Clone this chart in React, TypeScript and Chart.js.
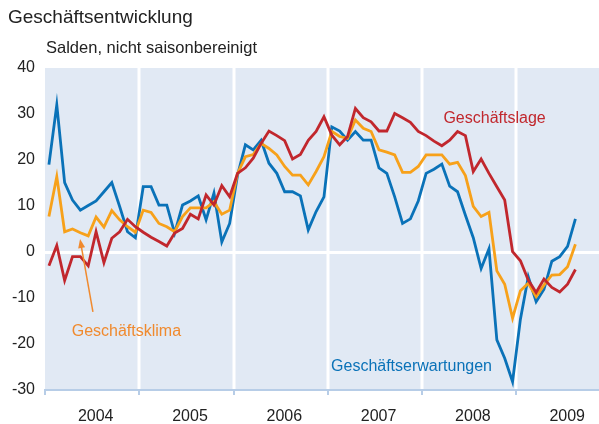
import React, { useEffect, useRef } from "react";
import { Chart, registerables } from "chart.js";

Chart.register(...registerables);

const years = ["2004", "2005", "2006", "2007", "2008", "2009"];

// monthly values, Jan 2004 .. Aug 2009
const geschaeftserwartungen = [
  19, 32, 15.1, 11.3, 9.1, 10.1, 11.1, 13.1, 15.1, 9.9, 4.4, 3.1,
  14.2, 14.2, 10.2, 10.2, 4.1, 10.2, 11.1, 12.2, 7, 12.8, 2.2, 6.2,
  16.7, 23.3, 22.2, 24.3, 19.3, 17.1, 13.1, 13.1, 12.2, 4.8, 8.8, 12.0,
  27.2, 26.3, 24.3, 26.2, 24.3, 24.3, 18.3, 17.1, 12.0, 6.2, 7.2, 11.1,
  17.1, 18.0, 19.1, 14.3, 13.1, 8.0, 3.1, -3.6, 0.7, -19.1, -23.1, -28.2,
  -14.6, -5.4, -10.8, -8.1, -2.0, -1.0, 1.2, 7.2,
];
const geschaeftsklima = [
  7.7, 16.4, 4.4, 5.0, 4.2, 3.5, 7.6, 5.4, 9.0, 7.0, 5.5, 4.3,
  9.1, 8.6, 6.2, 5.5, 4.4, 7.7, 9.6, 9.6, 9.6, 10.9, 8.2, 9.1,
  17.1, 20.7, 21.2, 23.6, 22.5, 21.1, 18.6, 16.7, 16.7, 14.6, 17.5, 20.7,
  26.2, 25.1, 24.7, 28.7, 26.9, 26.2, 22.2, 21.7, 21.1, 17.3, 17.3, 18.6,
  21.1, 21.1, 21.1, 19.1, 19.5, 16.6, 9.9, 7.7, 8.6, -4.1, -7.0, -14.4,
  -8.4, -6.8, -9.7, -7.2, -5.0, -4.9, -3.2, 1.7,
];
const geschaeftslage = [
  -3.0, 1.4, -6.2, -1.0, -1.0, -3.0, 4.4, -2.3, 3.0, 4.4, 7.1, 5.5,
  4.3, 3.2, 2.3, 1.3, 4.1, 5.1, 8.2, 7.2, 12.4, 10.2, 14.4, 12.0,
  17.1, 18.3, 20.4, 23.6, 26.3, 25.3, 24.2, 20.2, 21.2, 24.3, 26.2, 29.4,
  25.4, 23.3, 25.1, 31.2, 29.2, 28.3, 26.3, 26.3, 30.1, 29.2, 28.2, 26.2,
  25.3, 24.1, 23.1, 24.3, 26.2, 25.3, 17.5, 20.2, 17.1, 14.2, 11.3, 0.1,
  -1.9, -6.1, -8.8, -5.9, -7.7, -8.7, -7.0, -3.8,
];

const yTicks = [-30, -20, -10, 0, 10, 20, 30, 40];

const RED = "#c1272d";
const ORANGE = "#f7a11a";
const BLUE = "#0a72b8";
const BAND = "#e1e9f4";
const AXIS = "#b7cde7";
const FONT = '"Liberation Sans", Arial, sans-serif';

const toPoints = (arr: number[]) => arr.map((v, i) => ({ x: i + 0.5, y: v }));

const decorPlugin = {
  id: "decor",
  beforeDraw(chart: any) {
    const { ctx, chartArea } = chart;
    const xs = chart.scales.x;
    ctx.save();
    for (let k = 0; k < years.length; k++) {
      const x0 = Math.max(xs.getPixelForValue(12 * k), chartArea.left);
      const x1 = Math.min(xs.getPixelForValue(12 * k + 12), chartArea.right);
      ctx.fillStyle = BAND;
      ctx.fillRect(x0, chartArea.top, x1 - x0, chartArea.bottom - chartArea.top);
    }
    ctx.strokeStyle = "#ffffff";
    ctx.lineWidth = 3;
    for (let k = 1; k < years.length; k++) {
      const x = Math.round(xs.getPixelForValue(12 * k));
      ctx.beginPath();
      ctx.moveTo(x, chartArea.top);
      ctx.lineTo(x, chartArea.bottom);
      ctx.stroke();
    }
    ctx.strokeStyle = AXIS;
    ctx.lineWidth = 2;
    for (let k = 0; k < years.length; k++) {
      const x = Math.round(xs.getPixelForValue(12 * k));
      ctx.beginPath();
      ctx.moveTo(x, chartArea.bottom);
      ctx.lineTo(x, chartArea.bottom + 5);
      ctx.stroke();
    }
    ctx.restore();
  },
  afterDraw(chart: any) {
    const { ctx } = chart;
    const xs = chart.scales.x;
    const ys = chart.scales.y;
    ctx.save();
    ctx.textBaseline = "middle";
    ctx.textAlign = "left";
    ctx.fillStyle = "#222222";
    ctx.font = `19px ${FONT}`;
    ctx.fillText("Geschäftsentwicklung", 8, 18);
    ctx.font = `16.5px ${FONT}`;
    ctx.fillText("Salden, nicht saisonbereinigt", 46, 48);

    ctx.font = `16px ${FONT}`;
    ctx.fillStyle = RED;
    ctx.fillText("Geschäftslage", xs.getPixelForValue(50.7), ys.getPixelForValue(28.9));
    ctx.fillStyle = "#f08a2e";
    ctx.fillText("Geschäftsklima", xs.getPixelForValue(3.4), ys.getPixelForValue(-17.2));
    ctx.fillStyle = BLUE;
    ctx.fillText("Geschäftserwartungen", xs.getPixelForValue(36.4), ys.getPixelForValue(-25));

    // arrow
    const ax0 = xs.getPixelForValue(6.1), ay0 = ys.getPixelForValue(-13);
    const ax1 = xs.getPixelForValue(4.46), ay1 = ys.getPixelForValue(2.8);
    const ang = Math.atan2(ay1 - ay0, ax1 - ax0);
    ctx.strokeStyle = "#f08a2e";
    ctx.fillStyle = "#f08a2e";
    ctx.lineWidth = 1.5;
    ctx.beginPath();
    ctx.moveTo(ax0, ay0);
    ctx.lineTo(ax1 - 6 * Math.cos(ang), ay1 - 6 * Math.sin(ang));
    ctx.stroke();
    ctx.beginPath();
    ctx.moveTo(ax1, ay1);
    ctx.lineTo(ax1 - 9 * Math.cos(ang) + 3.5 * Math.sin(ang), ay1 - 9 * Math.sin(ang) - 3.5 * Math.cos(ang));
    ctx.lineTo(ax1 - 9 * Math.cos(ang) - 3.5 * Math.sin(ang), ay1 - 9 * Math.sin(ang) + 3.5 * Math.cos(ang));
    ctx.closePath();
    ctx.fill();
    ctx.restore();
  },
};

export default function App() {
  const ref = useRef<HTMLCanvasElement | null>(null);
  useEffect(() => {
    if (!ref.current) return;
    const lineDs = (label: string, data: number[], color: string) => ({
      label,
      data: toPoints(data),
      borderColor: color,
      backgroundColor: color,
      borderWidth: 2.8,
      pointRadius: 0,
      tension: 0,
      borderJoinStyle: "miter" as const,
    });
    const chart = new Chart(ref.current, {
      type: "line",
      data: {
        datasets: [
          lineDs("Geschäftslage", geschaeftslage, RED),
          lineDs("Geschäftsklima", geschaeftsklima, ORANGE),
          lineDs("Geschäftserwartungen", geschaeftserwartungen, BLUE),
        ],
      },
      plugins: [decorPlugin],
      options: {
        animation: false,
        responsive: false,
        events: [],
        layout: { padding: { top: 68, left: 0, right: 0, bottom: 0 } },
        plugins: { legend: { display: false }, tooltip: { enabled: false }, title: { display: false } },
        scales: {
          x: {
            type: "linear",
            min: 0,
            max: 70.5,
            afterBuildTicks: (s: any) => {
              s.ticks = years.map((_, k) => ({ value: 12 * k + 6.45 }));
            },
            afterFit: (s: any) => {
              s.height = 34;
            },
            ticks: {
              autoSkip: false,
              maxRotation: 0,
              padding: 9,
              color: "#222222",
              font: { family: FONT, size: 16 },
              callback: (_v: any, i: number) => years[i],
            },
            grid: { display: false },
            border: { display: true, color: AXIS, width: 2 },
          },
          y: {
            min: -30,
            max: 40,
            afterBuildTicks: (s: any) => {
              s.ticks = yTicks.map((v) => ({ value: v }));
            },
            afterFit: (s: any) => {
              s.width = 45;
            },
            ticks: {
              padding: 10,
              color: "#222222",
              font: { family: FONT, size: 16 },
            },
            grid: {
              drawTicks: false,
              color: (c: any) => (c.tick && c.tick.value === 0 ? "#ffffff" : "rgba(0,0,0,0)"),
              lineWidth: (c: any) => (c.tick && c.tick.value === 0 ? 3 : 0),
            },
            border: { display: false },
          },
        },
      },
    });
    return () => chart.destroy();
  }, []);
  return (
    <div style={{ position: "absolute", left: 0, top: 0, width: 599, height: 424, background: "#fff" }}>
      <canvas ref={ref} width={599} height={424} style={{ display: "block", width: 599, height: 424 }} />
    </div>
  );
}
